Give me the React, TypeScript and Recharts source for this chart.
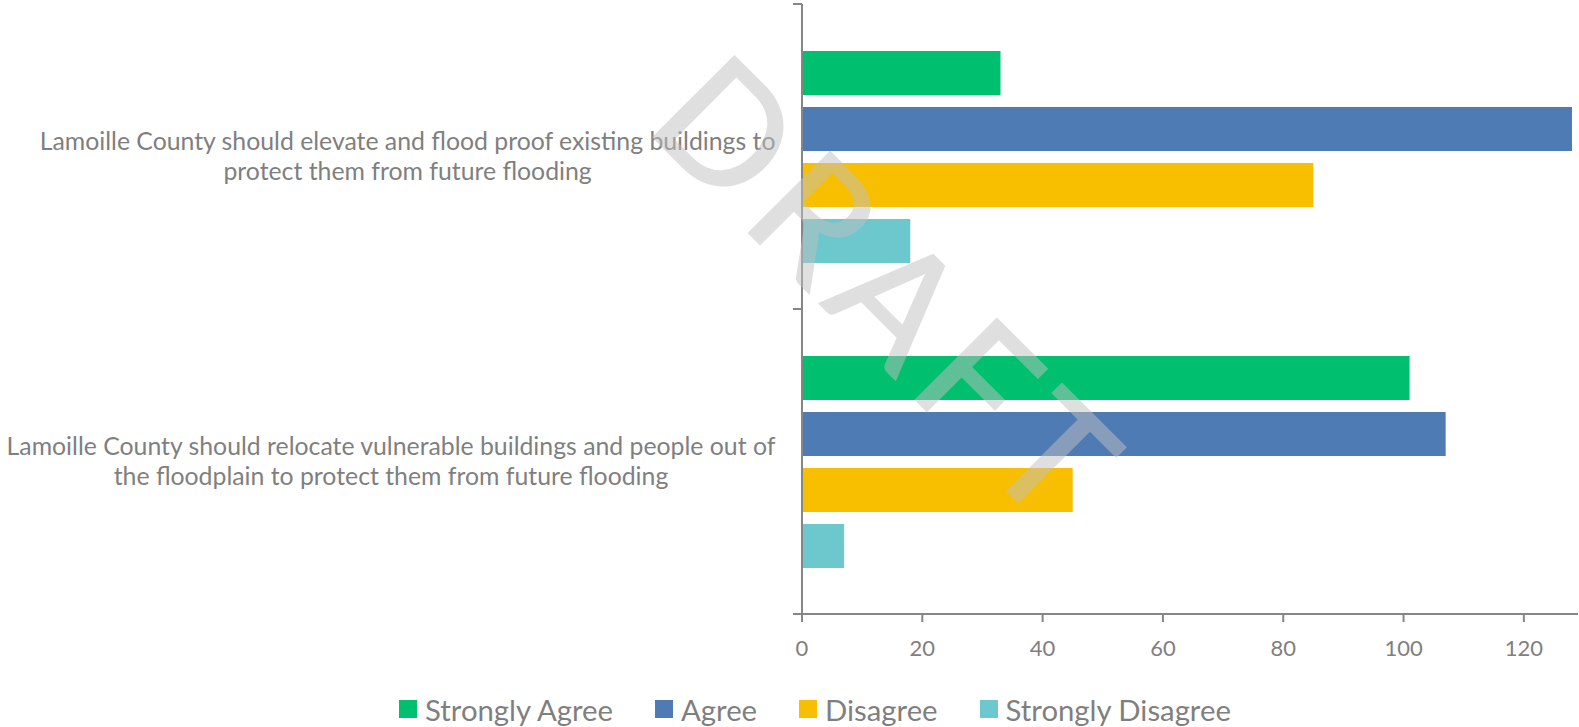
import React from 'react';
import { BarChart, Bar, XAxis, YAxis, Legend } from 'recharts';

const FONT = 'Lato, "Open Sans", sans-serif';
const TEXT = '#7f7f7f';
const AXIS = '#868686';

// categories and their wrapped labels (top to bottom)
const categories = ['elevate', 'relocate'];
const categoryLines = [
  ['Lamoille County should elevate and flood proof existing buildings to', 'protect them from future flooding'],
  ['Lamoille County should relocate vulnerable buildings and people out of', 'the floodplain to protect them from future flooding'],
];

const stronglyAgree = [33, 101];
const agree = [128, 107];
const disagree = [85, 45];
const stronglyDisagree = [18, 7];

const xTicks = [0, 20, 40, 60, 80, 100, 120];

const series = [
  { key: 'stronglyAgree', name: 'Strongly Agree', color: '#00BF6F' },
  { key: 'agree', name: 'Agree', color: '#4F7BB5' },
  { key: 'disagree', name: 'Disagree', color: '#F8BF00' },
  { key: 'stronglyDisagree', name: 'Strongly Disagree', color: '#6CC8CC' },
];

const data = categories.map((c, i) => ({
  category: c,
  stronglyAgree: stronglyAgree[i],
  agree: agree[i],
  disagree: disagree[i],
  stronglyDisagree: stronglyDisagree[i],
}));

let ctx: CanvasRenderingContext2D | null = null;
const measure = (s: string, font: string) => {
  if (!ctx) ctx = document.createElement('canvas').getContext('2d');
  if (!ctx) return s.length * 10;
  ctx.font = font;
  return ctx.measureText(s).width;
};

const LABEL_FS = 24.8;

const CategoryTick = (props: any) => {
  const { x, y, payload } = props;
  const half = typeof payload?.offset === 'number' && payload.offset > 0 ? payload.offset : 152;
  const idx = categories.indexOf(payload.value);
  const lines = categoryLines[idx] ?? [String(payload.value)];
  const w = Math.max(...lines.map((l) => measure(l, `${LABEL_FS}px Lato`)));
  const cx = x - 26 - w / 2;
  const lh = 30;
  const top = y - ((lines.length - 1) * lh) / 2;
  return (
    <g>
      <line x1={x - 9} x2={x} y1={y - half} y2={y - half} stroke={AXIS} strokeWidth={2} />
      <line x1={x - 9} x2={x} y1={y + half} y2={y + half} stroke={AXIS} strokeWidth={2} />
      <text textAnchor="middle" fill={TEXT} fontFamily={FONT} fontSize={LABEL_FS}>
        {lines.map((l, i) => (
          <tspan key={i} x={cx} y={top + i * lh} dy="0.35em">
            {l}
          </tspan>
        ))}
      </text>
    </g>
  );
};

const LegendContent = () => (
  <div
    style={{
      display: 'flex',
      justifyContent: 'center',
      alignItems: 'center',
      boxSizing: 'border-box',
      height: 43,
      paddingTop: 7,
      paddingLeft: 52,
      fontFamily: FONT,
      fontSize: 29.3,
      color: TEXT,
    }}
  >
    {series.map((s, i) => (
      <div key={s.key} style={{ display: 'flex', alignItems: 'center', marginLeft: i ? 42 : 0 }}>
        <span style={{ width: 18, height: 18, background: s.color, marginRight: 8, display: 'inline-block' }} />
        <span>{s.name}</span>
      </div>
    ))}
  </div>
);

export default function App() {
  return (
    <div style={{ position: 'absolute', left: 0, top: 0, width: 1579, height: 727, background: '#fff' }}>
      <BarChart
        width={1579}
        height={727}
        data={data}
        layout="vertical"
        margin={{ top: 4, right: 1, left: 0, bottom: 0 }}
        barCategoryGap={47}
        barGap={12}
      >
        <XAxis
          type="number"
          domain={[0, 129]}
          ticks={xTicks}
          interval={0}
          height={70}
          tickSize={8}
          tickMargin={18}
          axisLine={{ stroke: AXIS, strokeWidth: 2 }}
          tickLine={{ stroke: AXIS, strokeWidth: 2 }}
          tick={{ fill: TEXT, fontFamily: FONT, fontSize: 22 }}
        />
        <YAxis
          type="category"
          dataKey="category"
          width={802}
          tickSize={0}
          tickMargin={0}
          tickLine={false}
          interval={0}
          axisLine={{ stroke: AXIS, strokeWidth: 2 }}
          tick={<CategoryTick />}
        />
        <Legend verticalAlign="bottom" content={<LegendContent />} />
        {series.map((s) => (
          <Bar key={s.key} dataKey={s.key} name={s.name} fill={s.color} isAnimationActive={false} />
        ))}
      </BarChart>
      <svg
        width={1579}
        height={727}
        style={{ position: 'absolute', left: 0, top: 0, pointerEvents: 'none' }}
      >
        <g opacity={0.5}>
          <text
            x={643}
            y={127}
            transform="rotate(45 643 127)"
            fontFamily={FONT}
            fontSize={160}
            textLength={570}
            lengthAdjust="spacing"
            stroke="#c0c0c0"
            strokeWidth={2}
            fill="#c0c0c0"
          >
            DRAFT
          </text>
        </g>
      </svg>
    </div>
  );
}
